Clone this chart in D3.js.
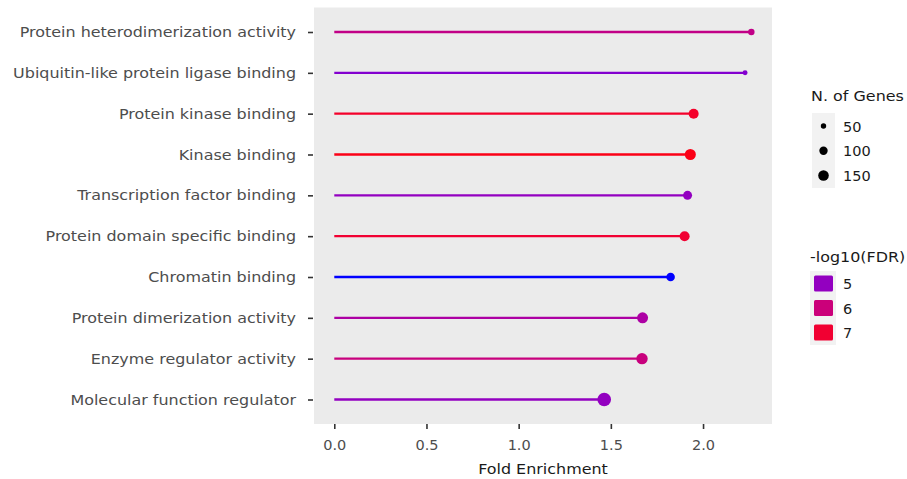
<!DOCTYPE html>
<html>
<head>
<meta charset="utf-8">
<script src="https://cdn.jsdelivr.net/npm/d3@7"></script>
<style>
  html, body { margin: 0; padding: 0; background: #fff; }
  svg { display: block; font-family: "DejaVu Sans", sans-serif; }
</style>
</head>
<body>
<svg id="chart" width="907" height="479"></svg>
<script>
// ---- data ----
const categories = [
  "Protein heterodimerization activity",
  "Ubiquitin-like protein ligase binding",
  "Protein kinase binding",
  "Kinase binding",
  "Transcription factor binding",
  "Protein domain specific binding",
  "Chromatin binding",
  "Protein dimerization activity",
  "Enzyme regulator activity",
  "Molecular function regulator"
];
const foldEnrichment = [2.262, 2.228, 1.949, 1.931, 1.916, 1.900, 1.824, 1.672, 1.669, 1.464];
const nGenes = [65, 44, 136, 160, 114, 136, 105, 160, 170, 232];
const negLog10FDR = [5.8, 4.8, 7.1, 7.3, 5.0, 7.0, 4.15, 5.4, 5.95, 5.0];
const xTicks = [0.0, 0.5, 1.0, 1.5, 2.0];
const sizeLegend = [50, 100, 150];
const colorLegend = [5, 6, 7];

// ---- layout ----
const svg = d3.select("#chart");
const panel = { left: 314, right: 772, top: 7.5, bottom: 424 };
const SX = 1.1;      // horizontal stretch of text seen in the reference
const FS = 14.5;

const x = d3.scaleLinear().domain([-0.11, 2.374]).range([panel.left, panel.right]);
const y = d3.scalePoint().domain(categories).range([panel.top, panel.bottom]).padding(0.6);
const r = d3.scaleSqrt().domain([50, 150]).range([2.7, 5.3]);
const color = d3.scaleLinear().domain([4.15, 7.43]).range(["blue", "red"]).interpolate(d3.interpolateLab);

function label(g, px, py, str, anchor, size, sx) {
  return g.append("text")
    .attr("transform", `translate(${px},${py}) scale(${sx},1)`)
    .attr("text-anchor", anchor || "start")
    .attr("font-size", size || FS)
    .attr("fill", "#1a1a1a")
    .text(str);
}

// panel background
svg.append("rect")
  .attr("x", panel.left).attr("y", panel.top)
  .attr("width", panel.right - panel.left).attr("height", panel.bottom - panel.top)
  .attr("fill", "#ebebeb");

const rows = categories.map((c, i) => ({ c, fe: foldEnrichment[i], n: nGenes[i], f: negLog10FDR[i] }));

// segments
svg.append("g").selectAll("line").data(rows).join("line")
  .attr("x1", x(0)).attr("x2", d => x(d.fe))
  .attr("y1", d => y(d.c)).attr("y2", d => y(d.c))
  .attr("stroke", d => color(d.f)).attr("stroke-width", 2.4);

// points
svg.append("g").selectAll("circle").data(rows).join("circle")
  .attr("cx", d => x(d.fe)).attr("cy", d => y(d.c))
  .attr("r", d => r(d.n))
  .attr("fill", d => color(d.f));

// x axis
const xAxis = d3.axisBottom(x).tickValues(xTicks).tickFormat(d3.format(".1f")).tickSize(5);
const gx = svg.append("g").attr("transform", `translate(0,${panel.bottom})`).call(xAxis);
gx.select(".domain").remove();
gx.selectAll(".tick line").attr("stroke", "#333").attr("stroke-width", 1.6);
gx.selectAll(".tick text").attr("fill", "#4d4d4d").attr("font-size", FS)
  .attr("font-family", "DejaVu Sans").attr("y", 26).attr("dy", 0);

// y axis
const yAxis = d3.axisLeft(y).tickSize(5);
const gy = svg.append("g").attr("transform", `translate(${panel.left - 1},0)`).call(yAxis);
gy.select(".domain").remove();
gy.selectAll(".tick line").attr("stroke", "#333").attr("stroke-width", 1.6);
gy.selectAll(".tick text").attr("fill", "#4d4d4d").attr("font-size", FS)
  .attr("font-family", "DejaVu Sans")
  .attr("x", -17 / SX).attr("transform", `scale(${SX},1)`);

// axis title
label(svg, (panel.left + panel.right) / 2, 474, "Fold Enrichment", "middle", FS, SX);

// size legend
const lg1 = svg.append("g");
label(lg1, 811, 101, "N. of Genes", "start", FS, SX);
lg1.append("rect").attr("x", 812).attr("y", 113).attr("width", 23).attr("height", 75).attr("fill", "#f2f2f2");
const sizeKeyY = d3.scalePoint().domain(sizeLegend).range([126, 175.5]);
lg1.selectAll("circle").data(sizeLegend).join("circle")
  .attr("cx", 823.5).attr("cy", d => sizeKeyY(d)).attr("r", d => r(d)).attr("fill", "#000");
sizeLegend.forEach(d => label(lg1, 843, sizeKeyY(d) + 5.5, d, "start", FS, 1));

// color legend
const lg2 = svg.append("g");
label(lg2, 810, 261.5, "-log10(FDR)", "start", FS, SX);
lg2.append("rect").attr("x", 810).attr("y", 271).attr("width", 26).attr("height", 74).attr("fill", "#f2f2f2");
const colKeyY = d3.scalePoint().domain(colorLegend).range([283.5, 332.5]);
lg2.selectAll("rect.key").data(colorLegend).join("rect").attr("class", "key")
  .attr("x", 814).attr("y", d => colKeyY(d) - 8).attr("width", 19).attr("height", 16).attr("rx", 1.5)
  .attr("fill", d => color(d));
colorLegend.forEach(d => label(lg2, 843, colKeyY(d) + 5.5, d, "start", FS, 1));
</script>
</body>
</html>
